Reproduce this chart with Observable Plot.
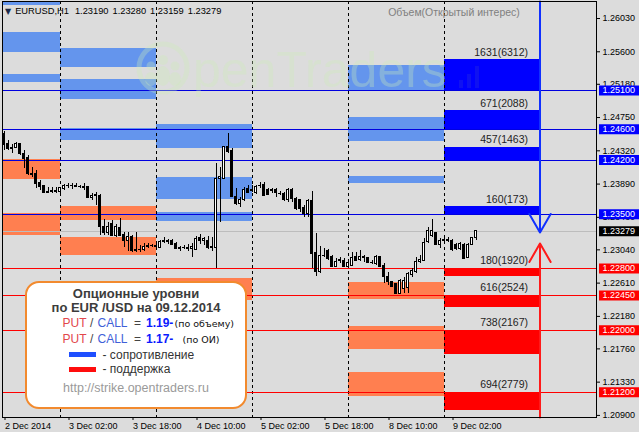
<!DOCTYPE html>
<html>
<head>
<meta charset="utf-8">
<script src="https://cdn.jsdelivr.net/npm/d3@7"></script>
<script src="https://cdn.jsdelivr.net/npm/@observablehq/plot@0.6"></script>
<style>
  html, body { margin: 0; padding: 0; background: #dcdcdc; }
  #chart { position: relative; width: 639px; height: 432px; overflow: hidden;
           font-family: "Liberation Sans", Arial, sans-serif; }
  #chart svg { display: block; }
  .ovl { position: absolute; white-space: pre; pointer-events: none; }
  #header { left: 5px; top: 4px; font-size: 9.3px; line-height: 14px; color: #000; }
  #header .tri { font-family: "DejaVu Sans", sans-serif; font-size: 8px; color: #1b2b4b; margin-right: 4px; }
  #volTitle { left: 388px; top: 5px; width: 132px; text-align: center; font-size: 10.5px; line-height: 14px; color: #808080; }
  #legend { position: absolute; left: 25px; top: 281px; width: 222px; height: 128px; box-sizing: border-box;
            background: #ffffff; border: 2.5px solid #f28a2e; border-radius: 14px; }
  #legend div { position: absolute; white-space: pre; }
  #legend .ttl { left: 0; width: 100%; text-align: center; font-weight: bold; font-size: 13px; line-height: 16px; color: #3c3c3c; }
  #legend .r { font-size: 12px; line-height: 16px; color: #444; }
  #legend .put { color: #e2474b; }
  #legend .call { color: #3f5fd8; }
  #legend .num { font-weight: bold; color: #0a1aff; font-size: 12px; }
  #legend .basis { font-family: "DejaVu Sans", sans-serif; font-size: 9.5px; color: #111; }
  #legend .sw { width: 27px; height: 5px; }
  #legend .swt { font-size: 12px; line-height: 16px; color: #333; }
  #legend .url { left: 0; width: 100%; text-align: center; font-size: 12.5px; line-height: 16px; color: #9a9a9a; }
</style>
</head>
<body>
<div id="chart"></div>
<script>
// ---- EURUSD H1 candles, bar 0 = 3 Dec 2014 00:00 (first visible bar is 2 Dec 10:00) ----
const firstBar = -14;
const open = [
  1.24540, 1.24402, 1.24346, 1.24359, 1.24410, 1.24281, 1.24229, 1.24022, 1.24022, 1.23902,
  1.23859, 1.23777, 1.23790, 1.23807, 1.23790, 1.23824, 1.23867, 1.23859, 1.23867, 1.23855,
  1.23846, 1.23850, 1.23712, 1.23742, 1.23742, 1.23341, 1.23255, 1.23376, 1.23216, 1.23324,
  1.23238, 1.23152, 1.23212, 1.23031, 1.23040, 1.23040, 1.23083, 1.23096, 1.23092, 1.23066,
  1.23135, 1.23152, 1.23152, 1.23117, 1.23053, 1.23066, 1.23070, 1.23057, 1.23040, 1.23191,
  1.23160, 1.23152, 1.23066, 1.23066, 1.23958, 1.23958, 1.24367, 1.24315, 1.23729, 1.23634,
  1.23678, 1.23828, 1.23798, 1.23772, 1.23859, 1.23872, 1.23816, 1.23803, 1.23816, 1.23768,
  1.23764, 1.23678, 1.23816, 1.23699, 1.23678, 1.23583, 1.23497, 1.23669, 1.22997, 1.22751,
  1.22966, 1.23031, 1.22945, 1.22824, 1.22893, 1.22893, 1.22824, 1.22837, 1.22945, 1.22910,
  1.22945, 1.22936, 1.22867, 1.22859, 1.22945, 1.22837, 1.22686, 1.22622, 1.22600, 1.22471,
  1.22535, 1.22548, 1.22721, 1.22751, 1.22880, 1.22902, 1.23139, 1.23225, 1.23255, 1.23109,
  1.23152, 1.23165, 1.23152, 1.23109, 1.23053, 1.23109, 1.22936, 1.23109, 1.23190
];
const high = [
  1.24574, 1.24453, 1.24402, 1.24432, 1.24419, 1.24324, 1.24259, 1.24109, 1.24065, 1.23936,
  1.23872, 1.23841, 1.23850, 1.23841, 1.23850, 1.23884, 1.23893, 1.23893, 1.23893, 1.23872,
  1.23893, 1.23859, 1.23764, 1.23785, 1.23755, 1.23428, 1.23397, 1.23419, 1.23367, 1.23441,
  1.23268, 1.23268, 1.23225, 1.23268, 1.23096, 1.23117, 1.23126, 1.23109, 1.23117, 1.23160,
  1.23203, 1.23169, 1.23169, 1.23139, 1.23083, 1.23096, 1.23109, 1.23126, 1.23212, 1.23238,
  1.23195, 1.23212, 1.23203, 1.24152, 1.24109, 1.24367, 1.24548, 1.24346, 1.23828, 1.23712,
  1.23850, 1.23872, 1.23872, 1.23872, 1.23915, 1.23915, 1.23828, 1.23828, 1.23828, 1.23798,
  1.23785, 1.23828, 1.23828, 1.23721, 1.23686, 1.23613, 1.23686, 1.23798, 1.23247, 1.23083,
  1.23053, 1.23040, 1.22966, 1.22923, 1.22945, 1.22923, 1.22910, 1.23010, 1.23010, 1.23031,
  1.22966, 1.22945, 1.22902, 1.22966, 1.22955, 1.22859, 1.22751, 1.22635, 1.22609, 1.22652,
  1.22678, 1.22751, 1.22794, 1.22945, 1.22966, 1.23182, 1.23333, 1.23428, 1.23268, 1.23182,
  1.23182, 1.23195, 1.23169, 1.23126, 1.23139, 1.23117, 1.23126, 1.23203, 1.23280
];
const low = [
  1.24324, 1.24324, 1.24281, 1.24346, 1.24259, 1.24087, 1.24001, 1.23979, 1.23828, 1.23807,
  1.23764, 1.23764, 1.23772, 1.23772, 1.23772, 1.23807, 1.23828, 1.23816, 1.23841, 1.23828,
  1.23807, 1.23699, 1.23678, 1.23613, 1.23225, 1.23225, 1.23225, 1.23212, 1.23203, 1.23212,
  1.23074, 1.23022, 1.23010, 1.23010, 1.23010, 1.23022, 1.23053, 1.23074, 1.23053, 1.23053,
  1.23117, 1.23109, 1.23096, 1.23040, 1.23022, 1.23040, 1.23022, 1.22945, 1.23031, 1.23109,
  1.23096, 1.23040, 1.23022, 1.22803, 1.23397, 1.23945, 1.24281, 1.23721, 1.23613, 1.23591,
  1.23669, 1.23764, 1.23785, 1.23755, 1.23828, 1.23729, 1.23742, 1.23772, 1.23712, 1.23742,
  1.23669, 1.23656, 1.23656, 1.23548, 1.23527, 1.23453, 1.23462, 1.22794, 1.22695, 1.22738,
  1.22936, 1.22902, 1.22807, 1.22807, 1.22859, 1.22807, 1.22807, 1.22824, 1.22893, 1.22893,
  1.22880, 1.22859, 1.22850, 1.22837, 1.22816, 1.22600, 1.22579, 1.22557, 1.22462, 1.22462,
  1.22471, 1.22479, 1.22686, 1.22738, 1.22859, 1.22893, 1.23117, 1.23203, 1.23096, 1.23053,
  1.23117, 1.23139, 1.23022, 1.23031, 1.23031, 1.22910, 1.22923, 1.23096, 1.23159
];
const close = [
  1.24389, 1.24346, 1.24359, 1.24402, 1.24281, 1.24216, 1.24022, 1.24009, 1.23893, 1.23850,
  1.23772, 1.23794, 1.23807, 1.23790, 1.23833, 1.23867, 1.23859, 1.23867, 1.23855, 1.23846,
  1.23837, 1.23712, 1.23742, 1.23750, 1.23333, 1.23255, 1.23341, 1.23225, 1.23333, 1.23225,
  1.23152, 1.23212, 1.23031, 1.23040, 1.23036, 1.23083, 1.23096, 1.23092, 1.23083, 1.23135,
  1.23152, 1.23139, 1.23109, 1.23053, 1.23066, 1.23070, 1.23057, 1.23083, 1.23182, 1.23152,
  1.23175, 1.23066, 1.23074, 1.23958, 1.23979, 1.24367, 1.24303, 1.23729, 1.23634, 1.23678,
  1.23816, 1.23772, 1.23810, 1.23850, 1.23867, 1.23742, 1.23755, 1.23811, 1.23772, 1.23760,
  1.23678, 1.23816, 1.23699, 1.23570, 1.23570, 1.23497, 1.23669, 1.22988, 1.22751, 1.22966,
  1.22960, 1.22923, 1.22816, 1.22880, 1.22906, 1.22816, 1.22876, 1.22936, 1.22902, 1.22945,
  1.22940, 1.22867, 1.22872, 1.22945, 1.22824, 1.22686, 1.22622, 1.22566, 1.22471, 1.22635,
  1.22643, 1.22729, 1.22772, 1.22880, 1.22910, 1.23126, 1.23290, 1.23290, 1.23109, 1.23152,
  1.23165, 1.23160, 1.23040, 1.23053, 1.23117, 1.22923, 1.23109, 1.23195, 1.23279
];

// ---- time axis (bar index of each day start and the axis labels) ----
const dayStarts = [0, 24, 48, 72, 96];
const timeTicks = [-14, 2, 18, 34, 50, 66, 82, 98];
const timeLabels = ["2 Dec 2014", "3 Dec 02:00", "3 Dec 18:00", "4 Dec 10:00",
                    "5 Dec 02:00", "5 Dec 18:00", "8 Dec 10:00", "9 Dec 02:00"];

// ---- price axis ticks ----
const priceTicks = [1.26030, 1.25600, 1.25180, 1.24750, 1.24320, 1.23890, 1.23460,
                    1.23040, 1.22610, 1.22180, 1.21760, 1.21330, 1.20900];

// ---- option levels for 09.12.2014: resistance (calls) and support (puts) ----
const todayStart = 96;
const resistance = [1.25100, 1.24600, 1.24200, 1.23500];
const resistanceTop = [1.25497, 1.24837, 1.24363, 1.23598];
const resistanceText = ["1631(6312)", "671(2088)", "457(1463)", "160(173)"];
const support = [1.22800, 1.22450, 1.22000, 1.21200];
const supportBottom = [1.22691, 1.22291, 1.21686, 1.20963];
const supportText = ["180(1920)", "616(2524)", "738(2167)", "694(2779)"];
const lastPrice = 1.23279;

// ---- option levels of the previous sessions (day start bar, band low/high, kind) ----
const zoneDay  = [-24, -24, -24, -24, -24, 0, 0, 0, 0, 0, 24, 24, 24, 24, 72, 72, 72, 72, 72, 72];
const zoneLow  = [1.26203, 1.25595, 1.25207, 1.23950, 1.23226,
                  1.25401, 1.24984, 1.24454, 1.23420, 1.22967,
                  1.24354, 1.23691, 1.23410, 1.22385,
                  1.25100, 1.24445, 1.23902, 1.22398, 1.21752, 1.21144];
const zoneHigh = [1.26300, 1.25854, 1.25307, 1.24204, 1.23506,
                  1.25647, 1.25242, 1.24605, 1.23601, 1.23204,
                  1.24660, 1.23979, 1.23523, 1.22670,
                  1.25423, 1.24755, 1.23988, 1.22622, 1.22049, 1.21459];
const zoneKind = ["r", "r", "r", "s", "s",  "r", "r", "r", "s", "s",
                  "r", "r", "r", "s",  "r", "r", "r", "s", "s", "s"];

// ---- direction arrows at the end of the session ----
const arrowTips = [1.23265, 1.23122];

// ---- legend content ----
const pairName = "EUR /USD";
const reportDate = "09.12.2014";
const putCallRatio = [1.19, 1.17];
const ratioBasis = ["(по объему)", "(по ОИ)"];
const siteUrl = "http://strike.opentraders.ru";
const symbolName = "EURUSD,H1";

// ---------------------------------------------------------------------------
const bars = open.map((o, k) => ({i: firstBar + k, o, h: high[k], l: low[k], c: close[k]}));
const zones = zoneDay.map((d, k) => ({from: d, lo: zoneLow[k], hi: zoneHigh[k], kind: zoneKind[k]}));
const resBars = resistance.map((v, k) => ({lo: v, hi: resistanceTop[k], text: resistanceText[k]}));
const supBars = support.map((v, k) => ({lo: supportBottom[k], hi: v, text: supportText[k]}));
const axisBoxes = [
  ...resistance.map(v => ({v, fill: "#0000ff"})),
  ...support.map(v => ({v, fill: "#ff0000"})),
  {v: lastPrice, fill: "#000000"}
];
const yDomain = [1.20873, 1.26250];
const dayLen = 24;
const fmt5 = d3.format(".5f");

const chart = Plot.plot({
  width: 639, height: 432,
  marginLeft: 2, marginRight: 43, marginTop: 1, marginBottom: 15,
  x: {domain: [-14.375, 134.125]},
  y: {domain: yDomain},
  style: {background: "#dcdcdc", fontFamily: "'Liberation Sans', Arial, sans-serif", fontSize: "9px", color: "#000"},
  marks: [
    // earlier sessions' option bands
    Plot.rect(zones, {x1: "from", x2: d => d.from + dayLen, y1: "lo", y2: "hi",
      fill: d => d.kind === "r" ? "#6495ed" : "#ff7f50", clip: true, shapeRendering: "crispEdges"}),
    // today's levels
    Plot.rect(resBars, {x1: todayStart, x2: todayStart + dayLen, y1: "lo", y2: "hi", fill: "#0000ff", shapeRendering: "crispEdges"}),
    Plot.rect(supBars, {x1: todayStart, x2: todayStart + dayLen, y1: "lo", y2: "hi", fill: "#ff0000", shapeRendering: "crispEdges"}),
    // day separators
    Plot.ruleX(dayStarts, {stroke: "#000", strokeDasharray: "3,3", shapeRendering: "crispEdges"}),
    // horizontal level lines
    Plot.ruleY(resistance, {stroke: "#0000e0", shapeRendering: "crispEdges"}),
    Plot.ruleY(support, {stroke: "#ff0000", shapeRendering: "crispEdges"}),
    Plot.ruleY([lastPrice], {stroke: "#bdbdbd", shapeRendering: "crispEdges"}),
    // candles
    Plot.ruleX(bars, {x: "i", y1: "l", y2: "h", stroke: "#000", shapeRendering: "crispEdges"}),
    Plot.rect(bars, {x1: d => d.i - 0.25, x2: d => d.i + 0.25, y1: "o", y2: "c",
      fill: d => d.c >= d.o ? "#fff" : "#000", stroke: "#000", shapeRendering: "crispEdges"}),
    // volume (open interest) captions
    Plot.text(resBars, {x: todayStart + dayLen, y: "hi", text: "text", textAnchor: "end", dx: -12, dy: -7.5,
      lineAnchor: "middle", fontSize: 10.5, fill: "#1e1e1e"}),
    Plot.text(supBars, {x: todayStart + dayLen, y: "hi", text: "text", textAnchor: "end", dx: -12, dy: -7.5,
      lineAnchor: "middle", fontSize: 10.5, fill: "#1e1e1e"}),
    // arrows
    Plot.arrow([{y1: yDomain[1], y2: arrowTips[0]}], {x1: todayStart + dayLen, x2: todayStart + dayLen,
      y1: "y1", y2: "y2", stroke: "#1030ff", strokeWidth: 2, headLength: 16, headAngle: 60}),
    Plot.arrow([{y1: yDomain[0], y2: arrowTips[1]}], {x1: todayStart + dayLen, x2: todayStart + dayLen,
      y1: "y1", y2: "y2", stroke: "#ff1a1a", strokeWidth: 2, headLength: 16, headAngle: 60}),
    // axes and frame
    Plot.axisY(priceTicks, {anchor: "right", tickSize: 3, tickPadding: 3, tickFormat: fmt5, label: null, fontSize: 9}),
    Plot.axisX(timeTicks, {anchor: "bottom", tickSize: 3, tickPadding: 2, label: null, fontSize: 9,
      textAnchor: "start", dx: 1, tickFormat: d => timeLabels[timeTicks.indexOf(d)]}),
    Plot.frame({stroke: "#000", shapeRendering: "crispEdges"}),
    // price labels of the level lines on the axis
    Plot.ruleY(axisBoxes, {y: "v", stroke: "fill", strokeWidth: 10, insetLeft: 554, dx: 43}),
    Plot.text(axisBoxes, {y: "v", text: d => fmt5(d.v), frameAnchor: "right", dx: 6, textAnchor: "start",
      fill: "#fff", fontSize: 9})
  ]
});

const root = document.getElementById("chart");
root.appendChild(chart);

// faint site watermark
const wmColor = "rgba(205,235,185,0.32)";
const wm = d3.select(root).append("svg")
  .attr("class", "ovl").attr("width", 639).attr("height", 432)
  .style("left", "0px").style("top", "0px");
const wmg = wm.append("g").attr("fill", wmColor).attr("stroke", "none");
wm.append("circle").attr("cx", 163).attr("cy", 68).attr("r", 24)
  .attr("fill", "none").attr("stroke", wmColor).attr("stroke-width", 5);
[[151, 66, 4.5], [163, 60, 5], [175, 66, 4.5]].forEach(([cx, cy, r]) =>
  wmg.append("circle").attr("cx", cx).attr("cy", cy).attr("r", r));
[[151, 79, 6, 7], [163, 76, 7, 10], [175, 79, 6, 7]].forEach(([cx, cy, rx, ry]) =>
  wmg.append("ellipse").attr("cx", cx).attr("cy", cy).attr("rx", rx).attr("ry", ry));
wmg.append("text").attr("x", 193).attr("y", 87)
  .style("font-family", "'Liberation Sans', Arial, sans-serif").style("font-size", "50px")
  .text("penTraders");
[[459, 80, 4, 8], [467, 74, 4, 14], [475, 66, 4, 22]].forEach(([x, y, w, h]) =>
  wm.append("rect").attr("x", x).attr("y", y).attr("width", w).attr("height", h)
    .attr("fill", "rgba(120,140,150,0.12)"));

// symbol header with the last bar's OHLC
const last = open.length - 1;
const header = document.createElement("div");
header.id = "header"; header.className = "ovl";
header.innerHTML = `<span class="tri">▼</span>${symbolName}` +
  [open[last], high[last], low[last], close[last]]
    .map((v, k) => `<span style="margin-left:${k === 0 ? 6 : 4}px">${fmt5(v)}</span>`).join("");
root.appendChild(header);

const volTitle = document.createElement("div");
volTitle.id = "volTitle"; volTitle.className = "ovl";
volTitle.textContent = "Объем(Открытый интерес)";
root.appendChild(volTitle);

// option levels legend
const legend = document.createElement("div");
legend.id = "legend";
let html = `<div class="ttl" style="top:2.5px">Опционные уровни</div>` +
           `<div class="ttl" style="top:16.8px">по ${pairName} на ${reportDate}</div>`;
putCallRatio.forEach((r, k) => {
  const top = 31.8 + k * 16;
  html += `<div class="r put" style="left:35.5px;top:${top}px">PUT</div>` +
          `<div class="r" style="left:63px;top:${top}px">/</div>` +
          `<div class="r call" style="left:70.5px;top:${top}px">CALL</div>` +
          `<div class="r" style="left:107px;top:${top}px">=</div>` +
          `<div class="r num" style="left:119px;top:${top}px">${r.toFixed(2)}-</div>` +
          `<div class="r basis" style="left:${k === 0 ? 147.5 : 155.5}px;top:${top + 1}px">${ratioBasis[k]}</div>`;
});
html += `<div class="sw" style="left:41.5px;top:69.2px;background:#1f4fff"></div>` +
        `<div class="swt" style="left:75.5px;top:63.5px">- сопротивление</div>` +
        `<div class="sw" style="left:41.5px;top:83.5px;background:#ff0d0d"></div>` +
        `<div class="swt" style="left:75.5px;top:77.5px">- поддержка</div>` +
        `<div class="url" style="top:96.5px">${siteUrl}</div>`;
legend.innerHTML = html;
root.appendChild(legend);
</script>
</body>
</html>
